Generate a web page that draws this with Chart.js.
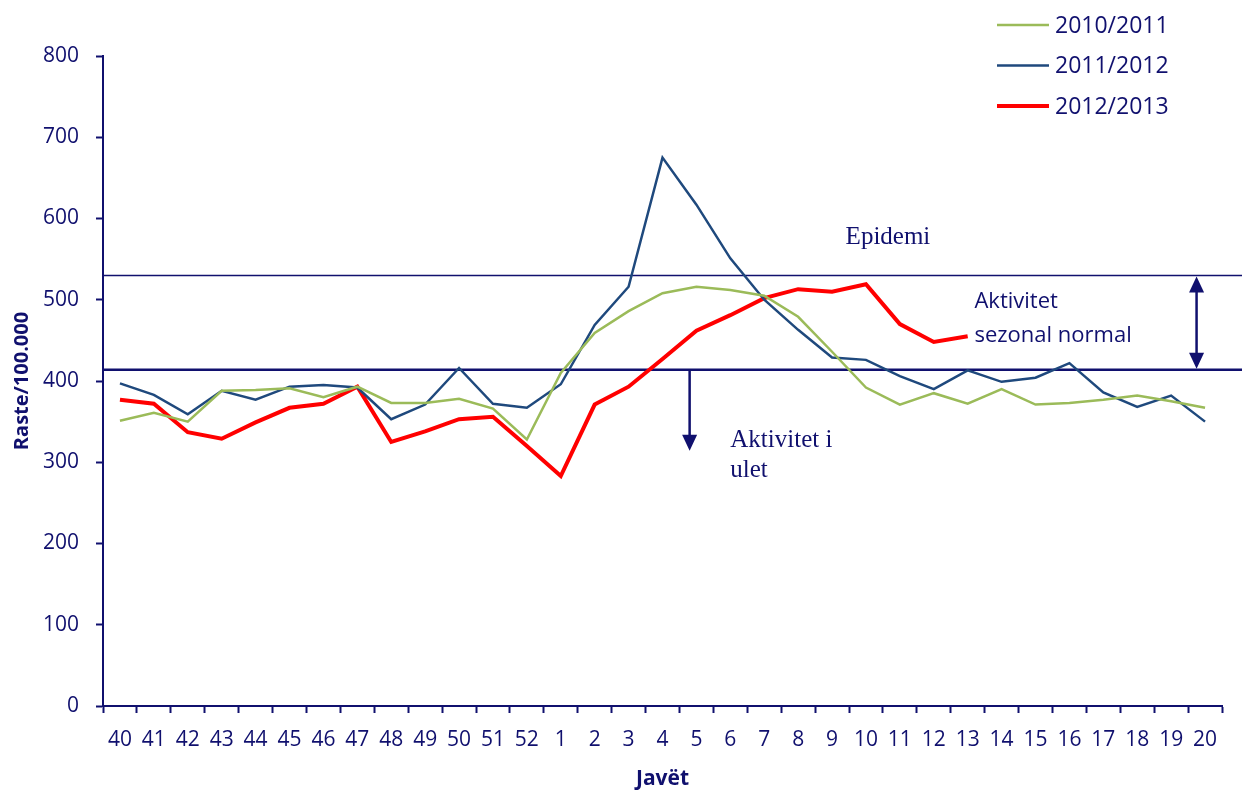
<!DOCTYPE html>
<html>
<head>
<meta charset="utf-8">
<script src="https://cdn.jsdelivr.net/npm/chart.js@4"></script>
<style>
  html, body { margin: 0; padding: 0; background: #fff; }
  #wrap { width: 1242px; height: 790px; }
</style>
</head>
<body>
<div id="wrap"><canvas id="fluChart" width="1242" height="790"></canvas></div>
<script>
// Weeks of the season (40..52, then 1..20)
const weeks = ['40', '41', '42', '43', '44', '45', '46', '47', '48', '49', '50', '51', '52',
    '1', '2', '3', '4', '5', '6', '7', '8', '9', '10', '11', '12', '13', '14', '15', '16', '17', '18', '19', '20'];

const season1011 = [351, 361, 350, 388, 389, 391, 380, 393, 373, 373, 378, 366, 328,
    410, 459, 486, 508, 516, 512, 505, 479, 436, 392, 371, 385, 372, 390, 371, 373, 377, 382, 375, 367];
const season1112 = [397, 383, 359, 388, 377, 393, 395, 392, 353, 371, 416, 372, 367,
    396, 469, 516, 675, 617, 551, 500, 463, 429, 426, 406, 390, 413, 399, 404, 422, 386, 368, 382, 350];
const season1213 = [377, 372, 337, 329, 349, 367, 372, 393, 325, 338, 353, 356, 320,
    283, 371, 393, 427, 462, 481, 502, 513, 510, 519, 470, 448, 455, null, null, null, null, null, null, null];

const seasonLabels = ['2010/2011', '2011/2012', '2012/2013'];
const yTicks = [0, 100, 200, 300, 400, 500, 600, 700, 800];

// Threshold levels (rate per 100.000)
const epidemicLevel = 530;
const baselineLevel = 414;

const navy = '#10106e';
const sansFont = "'Open Sans', sans-serif";
const serifFont = "'Liberation Serif', 'Times New Roman', serif";

// Draw an arrow head pointing up (dir = -1) or down (dir = 1)
const arrowHead = (ctx, x, tipY, dir) => {
    ctx.beginPath();
    ctx.moveTo(x, tipY);
    ctx.lineTo(x - 7.5, tipY - dir * 16);
    ctx.lineTo(x + 7.5, tipY - dir * 16);
    ctx.closePath();
    ctx.fill();
};

// Threshold lines, arrows and notes
const thresholdPlugin = {
    id: 'thresholds',
    beforeDatasetsDraw(chart) {
        const { ctx, chartArea, scales: { y } } = chart;
        ctx.save();
        ctx.strokeStyle = navy;
        ctx.lineWidth = 1.5;
        let yy = y.getPixelForValue(epidemicLevel);
        ctx.beginPath();
        ctx.moveTo(chartArea.left, yy);
        ctx.lineTo(chart.width, yy);
        ctx.stroke();
        ctx.lineWidth = 2.5;
        yy = y.getPixelForValue(baselineLevel);
        ctx.beginPath();
        ctx.moveTo(chartArea.left, yy);
        ctx.lineTo(chart.width, yy);
        ctx.stroke();
        ctx.restore();
    },
    afterDatasetsDraw(chart) {
        const { ctx, scales: { x, y } } = chart;
        const top = y.getPixelForValue(epidemicLevel);
        const low = y.getPixelForValue(baselineLevel);
        ctx.save();
        ctx.strokeStyle = navy;
        ctx.fillStyle = navy;
        ctx.lineWidth = 2.5;

        // down arrow: low activity
        const ax = x.getPixelForValue(16.8);
        ctx.beginPath();
        ctx.moveTo(ax, low);
        ctx.lineTo(ax, low + 70);
        ctx.stroke();
        arrowHead(ctx, ax, low + 81, 1);

        // double arrow: normal seasonal activity
        const bx = x.getPixelForValue(31.75);
        ctx.beginPath();
        ctx.moveTo(bx, top + 12);
        ctx.lineTo(bx, low - 12);
        ctx.stroke();
        arrowHead(ctx, bx, top + 1, -1);
        arrowHead(ctx, bx, low - 1, 1);

        // texts
        ctx.textBaseline = 'middle';
        ctx.textAlign = 'left';
        ctx.font = '25px ' + serifFont;
        ctx.fillText('Epidemi', x.getPixelForValue(21.4), y.getPixelForValue(577));
        ctx.fillText('Aktivitet i', x.getPixelForValue(18.0), y.getPixelForValue(327));
        ctx.fillText('ulet', x.getPixelForValue(18.0), y.getPixelForValue(290));
        ctx.font = '22px ' + sansFont;
        ctx.fillText('Aktivitet', x.getPixelForValue(25.2), y.getPixelForValue(497));
        ctx.fillText('sezonal normal', x.getPixelForValue(25.2), y.getPixelForValue(456));
        ctx.restore();
    }
};

// Legend drawn in the top right corner, one row per season
const legendPlugin = {
    id: 'cornerLegend',
    afterDraw(chart) {
        const { ctx } = chart;
        ctx.save();
        ctx.font = '23px ' + sansFont;
        ctx.textBaseline = 'middle';
        ctx.fillStyle = navy;
        chart.data.datasets.forEach((ds, i) => {
            const rowY = 25 + i * 40.5;
            ctx.strokeStyle = ds.borderColor;
            ctx.lineWidth = ds.borderWidth;
            ctx.beginPath();
            ctx.moveTo(997, rowY);
            ctx.lineTo(1049, rowY);
            ctx.stroke();
            ctx.fillText(ds.label, 1055, rowY + 1);
        });
        ctx.restore();
    }
};

const ctx = document.getElementById('fluChart').getContext('2d');
new Chart(ctx, {
    type: 'line',
    data: {
        labels: weeks,
        datasets: [{
            label: seasonLabels[0],
            data: season1011,
            borderColor: '#9bbb59',
            borderWidth: 2.5
        }, {
            label: seasonLabels[1],
            data: season1112,
            borderColor: '#1f497d',
            borderWidth: 2.5
        }, {
            label: seasonLabels[2],
            data: season1213,
            borderColor: '#ff0000',
            borderWidth: 4
        }]
    },
    options: {
        responsive: false,
        animation: false,
        spanGaps: false,
        elements: {
            point: { radius: 0, hoverRadius: 0 },
            line: { tension: 0, borderJoinStyle: 'miter' }
        },
        layout: { padding: { top: 56, right: 20, left: 0, bottom: 0 } },
        plugins: {
            legend: { display: false },
            tooltip: { enabled: false }
        },
        scales: {
            x: {
                offset: true,
                grid: {
                    offset: true,
                    drawOnChartArea: false,
                    drawTicks: true,
                    tickLength: 7,
                    tickWidth: 2,
                    tickColor: navy
                },
                border: { color: navy, width: 2 },
                ticks: {
                    color: navy,
                    font: { family: sansFont, size: 21 },
                    padding: 14,
                    autoSkip: false,
                    maxRotation: 0
                },
                title: {
                    display: true,
                    text: 'Javët',
                    color: navy,
                    font: { family: sansFont, size: 21, weight: 'bold', lineHeight: 1 },
                    padding: { top: -2, bottom: 0 }
                },
                afterFit: (scale) => { scale.height = 84; }
            },
            y: {
                min: 0,
                max: 800,
                afterBuildTicks: (scale) => { scale.ticks = yTicks.map(v => ({ value: v })); },
                grid: {
                    drawOnChartArea: false,
                    drawTicks: true,
                    tickLength: 7,
                    tickWidth: 2,
                    tickColor: navy
                },
                border: { color: navy, width: 2 },
                ticks: {
                    color: navy,
                    font: { family: sansFont, size: 21 },
                    padding: 17
                },
                title: {
                    display: true,
                    text: 'Raste/100.000',
                    color: navy,
                    font: { family: sansFont, size: 20, weight: 'bold', lineHeight: 1 },
                    padding: { top: 12, bottom: 0 }
                },
                afterFit: (scale) => { scale.width = 103; }
            }
        }
    },
    plugins: [thresholdPlugin, legendPlugin]
});
</script>
</body>
</html>
